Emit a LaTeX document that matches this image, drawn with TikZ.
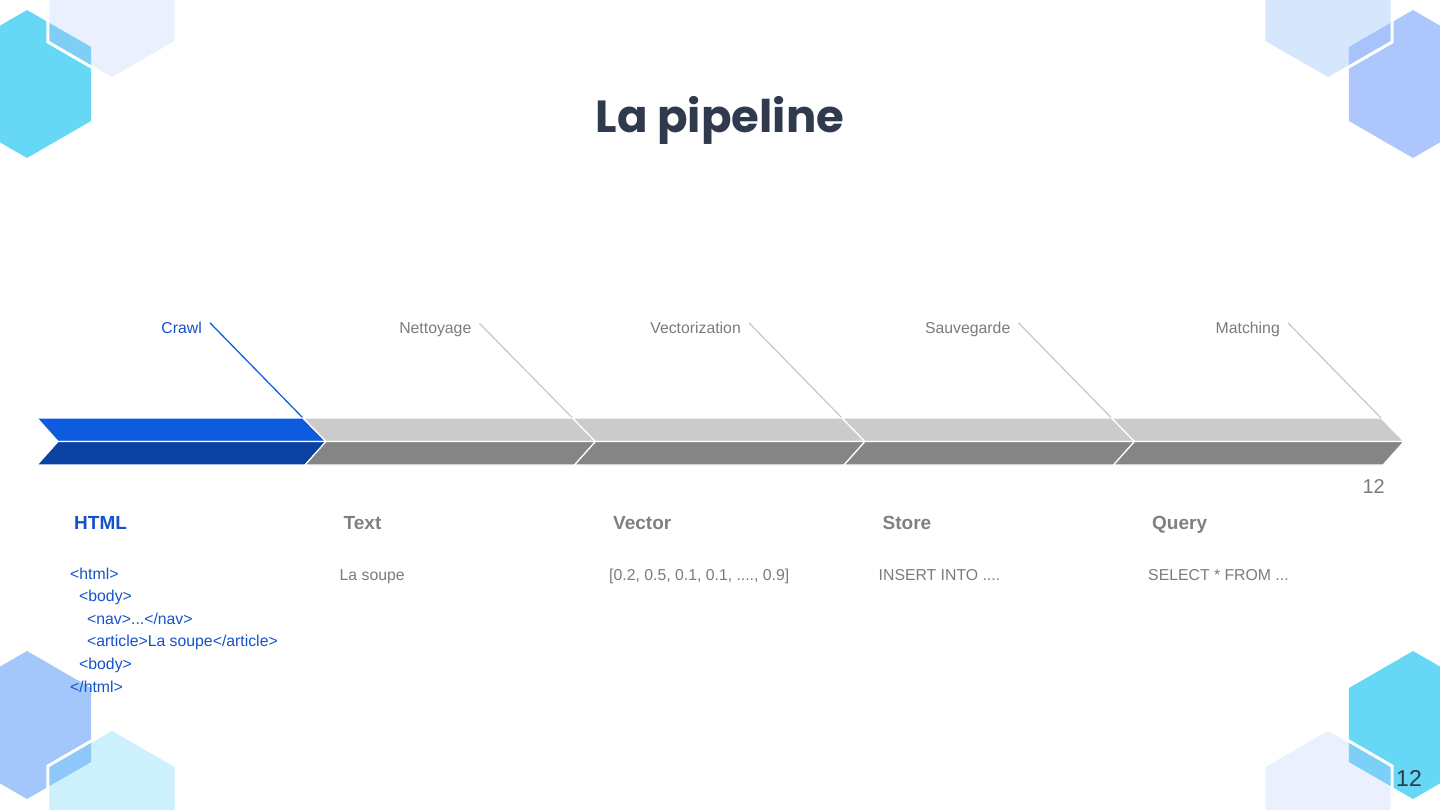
\documentclass[tikz,border=0pt]{standalone}
\usepackage{fontspec}
\setmainfont{Liberation Sans}
\newfontfamily\titlefont{Poppins}
\usetikzlibrary{calc}

\definecolor{titlecol}{HTML}{2F3B4D}
\definecolor{btop}{HTML}{0D5BDE}
\definecolor{bbot}{HTML}{0B42A2}
\definecolor{bline}{HTML}{1560DA}
\definecolor{btext}{HTML}{1452C9}
\definecolor{gtop}{HTML}{CBCBCB}
\definecolor{gbot}{HTML}{858585}
\definecolor{gline}{HTML}{CACACA}
\definecolor{gtext}{HTML}{7B7B7B}
\definecolor{ghead}{HTML}{808080}
% corner hexagons
\definecolor{hcyan}{HTML}{66D8F6}
\definecolor{hpale}{HTML}{EAF0FE}
\definecolor{hpaleblue}{HTML}{D6E6FD}
\definecolor{hperi}{HTML}{ADC7FC}
\definecolor{hblue}{HTML}{A3C7FA}
\definecolor{hpalecyan}{HTML}{CCF1FD}
\definecolor{hmixA}{HTML}{7FCEF6}
\definecolor{hmixB}{HTML}{A8C3FB}
\definecolor{hmixC}{HTML}{8DC8F9}
\definecolor{hmixD}{HTML}{7CCFF6}

% pointy hexagon around a centre, radius 74
\newcommand{\hexpath}[1]{(#1) +(30:74) -- +(90:74) -- +(150:74) -- +(210:74) -- +(270:74) -- +(330:74) -- cycle}
% base hexagon, hexagon on top with white rim, and their overlap
\newcommand{\cornerhex}[5]{%
  \fill[#2] \hexpath{#1};
  \fill[#4] \hexpath{#3};
  \begin{scope}
    \clip \hexpath{#1};
    \fill[#5] \hexpath{#3};
  \end{scope}
  \draw[white,line width=3pt] \hexpath{#3};
}

\begin{document}
\begin{tikzpicture}[x=1pt,y=-1pt,
  stagelbl/.style={anchor=base east,inner sep=0pt,font=\fontsize{15.8}{19}\selectfont},
  stagehead/.style={anchor=base west,inner sep=0pt,font=\bfseries\fontsize{19}{23}\selectfont},
  stagetxt/.style={anchor=base west,inner sep=0pt,font=\fontsize{15.8}{19}\selectfont},
  band/.style={draw=white,line width=1.2pt,line join=miter}]
  \useasboundingbox (0,0) rectangle (1440,810);

  % decoration in the corners
  \cornerhex{27,84}{hcyan}{112,5}{hpale}{hmixA}
  \cornerhex{1413,84}{hperi}{1328,5}{hpaleblue}{hmixB}
  \cornerhex{27,725}{hblue}{112,803}{hpalecyan}{hmixC}
  \cornerhex{1413,725}{hcyan}{1328,803}{hpale}{hmixD}

  \node[anchor=base,text=titlecol,font=\titlefont\bfseries\fontsize{45}{54}\selectfont] (title) at (720,133) {La pipeline};

  % the five chevrons, tips every 269.5
  \foreach \i/\lab/\head/\txt in {0/Crawl/HTML/{},1/Nettoyage/Text/{La soupe},
      2/Vectorization/Vector/{[0.2, 0.5, 0.1, 0.1, ...., 0.9]},
      3/Sauvegarde/Store/{INSERT INTO ....},4/Matching/Query/{SELECT * FROM ...}}{
    \pgfmathsetmacro{\t}{326+269.5*\i}
    \pgfmathsetmacro{\p}{\t-269.5}
    \ifnum\i=0
      \colorlet{segtop}{btop}\colorlet{segbot}{bbot}\colorlet{segline}{bline}
      \colorlet{segtext}{btext}\colorlet{seghead}{btext}
      \def\lt{37}\def\lm{58}\def\lb{37}
    \else
      \colorlet{segtop}{gtop}\colorlet{segbot}{gbot}\colorlet{segline}{gline}
      \colorlet{segtext}{gtext}\colorlet{seghead}{ghead}
      \pgfmathsetmacro{\lt}{\p-23}\def\lm{\p}\pgfmathsetmacro{\lb}{\p-21}
    \fi
    \filldraw[band,fill=segtop] (\lt,418) -- ({\t-23},418) -- (\t,441.5) -- (\lm,441.5) -- cycle;
    \filldraw[band,fill=segbot] (\lm,441.5) -- (\t,441.5) -- ({\t-21},465) -- (\lb,465) -- cycle;
    \coordinate (corner\i) at ({\t-23},418);
    \node[stagelbl,text=segtext] (lbl\i) at ({\t-124},333) {\lab};
    \draw[segline,line width=1.3pt] ([xshift=8pt,yshift=-1.5pt]lbl\i.north east) -- (corner\i);
    \node[stagehead,text=seghead] (head\i) at ({\t-252},529) {\head};
    \ifnum\i>0
      \node[stagetxt,text=segtext] (txt\i) at ({\t-256},580) {\txt};
    \fi
  }

  % the html sample
  \foreach \j/\ind/\code in {0/0/{<html>},1/9/{<body>},2/17/{<nav>...</nav>},
      3/17/{<article>La soupe</article>},4/9/{<body>},5/0/{</html>}}{
    \node[stagetxt,text=btext] (code\j) at ({70+\ind},{579+22.6*\j}) {\code};
  }

  % page numbers
  \node[anchor=base east,inner sep=0pt,text=gtext,font=\fontsize{20}{24}\selectfont] (pgnum) at (1385,493) {12};
  \node[anchor=base west,inner sep=0pt,text=titlecol,font=\fontsize{23}{28}\selectfont] (pgfoot) at (1396,786) {12};
\end{tikzpicture}
\end{document}
